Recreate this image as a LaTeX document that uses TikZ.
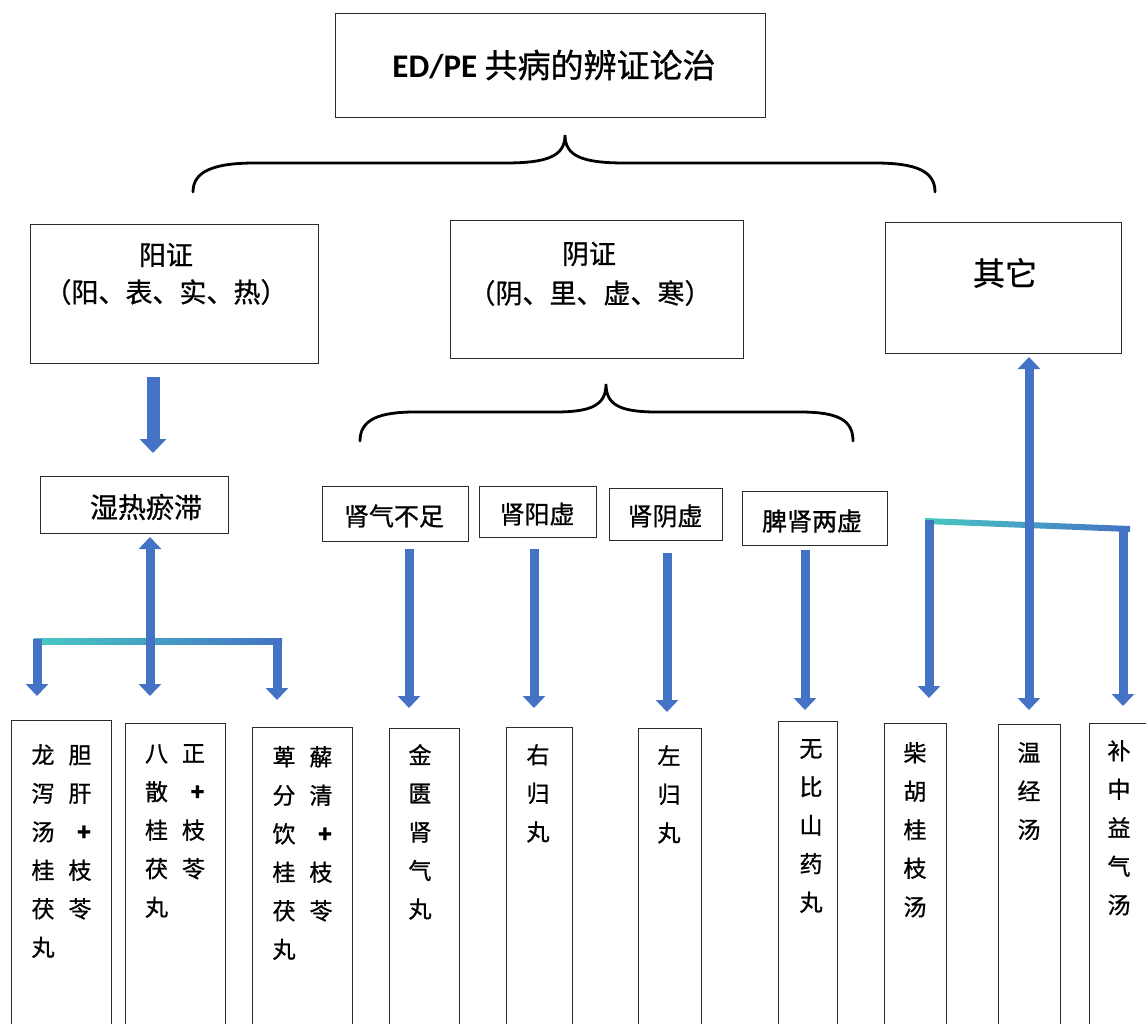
\documentclass[tikz,border=0pt]{standalone}
\usepackage{fontspec}
\setmainfont[FakeBold=0.8]{Noto Sans CJK SC}
\newfontfamily\latinb{Carlito}
\usetikzlibrary{arrows.meta}
\definecolor{ablue}{HTML}{4472C4}
\definecolor{ateal}{HTML}{47C9C3}
\definecolor{bord}{HTML}{2B2B2B}
\newcommand\tc[2]{\makebox[37pt]{#1}\makebox[37pt]{#2}}
\tikzset{
  box/.style={draw=bord, line width=1.3pt, fill=white, inner sep=0pt, anchor=north west},
  lbl/.style={inner sep=0pt, font=\fontsize{25pt}{30pt}\selectfont},
  colt/.style={inner sep=0pt, anchor=north, align=center, font=\fontsize{23pt}{38.5pt}\selectfont},
  barrow/.style={draw=ablue, line width=9pt, -{Triangle[width=22pt,length=12pt]}},
  darrow/.style={draw=ablue, line width=9pt, {Triangle[width=22pt,length=12pt]}-{Triangle[width=22pt,length=12pt]}},
  brace/.style={draw=black, line width=2.8pt, line cap=round},
}
\begin{document}
\begin{tikzpicture}[x=1pt,y=-1pt]
\useasboundingbox (0,0) rectangle (1146,1023);
\fill[white] (0,0) rectangle (1146,1023);
\clip (0,0) rectangle (1146,1023);

% ---------- boxes ----------
\node[box, minimum width=430pt, minimum height=104pt] (top) at (335,13) {};
\node[lbl, font=\fontsize{33pt}{36pt}\selectfont] (ttl) at (554,65) {{\latinb\bfseries ED/PE}\ 共病的辨证论治};

\node[box, minimum width=288pt, minimum height=139pt] (yang) at (30,224) {};
\node[lbl, font=\fontsize{27pt}{30pt}\selectfont] (yang1) at (166,255) {阳证};
\node[lbl, font=\fontsize{27pt}{30pt}\selectfont] (yang2) at (166,292) {（阳、表、实、热）};

\node[box, minimum width=293pt, minimum height=138pt] (yin) at (450,220) {};
\node[lbl, font=\fontsize{27pt}{30pt}\selectfont] (yin1) at (589,254) {阴证};
\node[lbl, font=\fontsize{27pt}{30pt}\selectfont] (yin2) at (590,293) {（阴、里、虚、寒）};

\node[box, minimum width=236pt, minimum height=131pt] (other) at (885,222) {};
\node[lbl, font=\fontsize{32pt}{34pt}\selectfont] (other1) at (1005,273) {其它};

\node[box, minimum width=188pt, minimum height=57pt] (shire) at (40,476) {};
\node[lbl, font=\fontsize{28pt}{30pt}\selectfont] (shire1) at (146,507) {湿热瘀滞};

\node[box, minimum width=146pt, minimum height=55pt] (sq1) at (322,486) {};
\node[lbl] (sq1t) at (394,516) {肾气不足};
\node[box, minimum width=117pt, minimum height=51pt] (sq2) at (479,486) {};
\node[lbl] (sq2t) at (537,514) {肾阳虚};
\node[box, minimum width=113pt, minimum height=52pt] (sq3) at (609,488) {};
\node[lbl] (sq3t) at (665,516) {肾阴虚};
\node[box, minimum width=145pt, minimum height=54pt] (sq4) at (742,491) {};
\node[lbl] (sq4t) at (812,521) {脾肾两虚};

% bottom boxes
\node[box, minimum width=100pt, minimum height=305pt] (b1) at (11,720) {};
\node[colt] (b1t) at (61.5,744) {\tc{龙}{胆}\\\tc{泻}{肝}\\\tc{汤}{\hspace{8pt}\textbf{+}}\\\tc{桂}{枝}\\\tc{茯}{苓}\\\tc{丸}{}};
\node[box, minimum width=100pt, minimum height=302pt] (b2) at (125,723) {};
\node[colt] (b2t) at (175,744) {\tc{八}{正}\\\tc{散}{\hspace{8pt}\textbf{+}}\\\tc{桂}{枝}\\\tc{茯}{苓}\\\tc{丸}{}};
\node[box, minimum width=100pt, minimum height=298pt] (b3) at (252,727) {};
\node[colt] (b3t) at (302.5,746) {\tc{萆}{薢}\\\tc{分}{清}\\\tc{饮}{\hspace{8pt}\textbf{+}}\\\tc{桂}{枝}\\\tc{茯}{苓}\\\tc{丸}{}};
\node[box, minimum width=70pt, minimum height=297pt] (b4) at (389,728) {};
\node[colt] (b4t) at (420,744) {金\\匮\\肾\\气\\丸};
\node[box, minimum width=66pt, minimum height=298pt] (b5) at (506,727) {};
\node[colt] (b5t) at (538,744) {右\\归\\丸};
\node[box, minimum width=63pt, minimum height=297pt] (b6) at (638,728) {};
\node[colt] (b6t) at (669,745) {左\\归\\丸};
\node[box, minimum width=59pt, minimum height=304pt] (b7) at (778,721) {};
\node[colt] (b7t) at (811,739) {无\\比\\山\\药\\丸};
\node[box, minimum width=62pt, minimum height=302pt] (b8) at (884,723) {};
\node[colt] (b8t) at (915,742) {柴\\胡\\桂\\枝\\汤};
\node[box, minimum width=62pt, minimum height=301pt] (b9) at (998,724) {};
\node[colt] (b9t) at (1029,742) {温\\经\\汤};
\node[box, minimum width=70pt, minimum height=302pt] (b10) at (1089,723) {};
\node[colt] (b10t) at (1119,740) {补\\中\\益\\气\\汤};

% ---------- braces ----------
\draw[brace] (193,192) .. controls (193,172) and (212,163) .. (255,163) -- (505,163)
  .. controls (548,163) and (565,156) .. (565,135)
  .. controls (565,156) and (582,163) .. (625,163) -- (875,163)
  .. controls (918,163) and (935,172) .. (935,192);
\draw[brace] (360,441) .. controls (360,420) and (378,412) .. (415,412) -- (555,412)
  .. controls (592,412) and (606,405) .. (606,384)
  .. controls (606,405) and (620,412) .. (657,412) -- (800,412)
  .. controls (838,412) and (853,420) .. (853,441);

% ---------- connector end points ----------
\coordinate (yA) at (153,377);   \coordinate (yB) at (153,453);
\coordinate (sA) at (150,537);   \coordinate (sB) at (150,696);
\coordinate (l1A) at (37,639);   \coordinate (l1B) at (37,696);
\coordinate (l3A) at (277,641);  \coordinate (l3B) at (277,700);
\coordinate (q1A) at (409,549);  \coordinate (q1B) at (409,708);
\coordinate (q2A) at (534,549);  \coordinate (q2B) at (534,708);
\coordinate (q3A) at (667,553);  \coordinate (q3B) at (667,712);
\coordinate (q4A) at (805,550);  \coordinate (q4B) at (805,710);
\coordinate (oA) at (1029,357);  \coordinate (oB) at (1029,710);
\coordinate (r1A) at (929,520);  \coordinate (r1B) at (929,698);
\coordinate (r3A) at (1123,528); \coordinate (r3B) at (1123,706);

% ---------- bars ----------
\shade[left color=ateal, right color=ablue] (34,638) rectangle (282,644);
\shade[left color=ateal, right color=ablue] (925,518) -- (1130,526) -- (1130,532) -- (925,524) -- cycle;

% ---------- arrows ----------
\draw[barrow, line width=13pt, -{Triangle[width=26pt,length=14pt]}] (yA) -- (yB);
\draw[darrow] (sA) -- (sB);
\draw[barrow] (l1A) -- (l1B);
\draw[barrow] (l3A) -- (l3B);
\draw[barrow] (q1A) -- (q1B);
\draw[barrow] (q2A) -- (q2B);
\draw[barrow] (q3A) -- (q3B);
\draw[barrow] (q4A) -- (q4B);
\draw[darrow] (oA) -- (oB);
\draw[barrow] (r1A) -- (r1B);
\draw[barrow] (r3A) -- (r3B);
\end{tikzpicture}
\end{document}
